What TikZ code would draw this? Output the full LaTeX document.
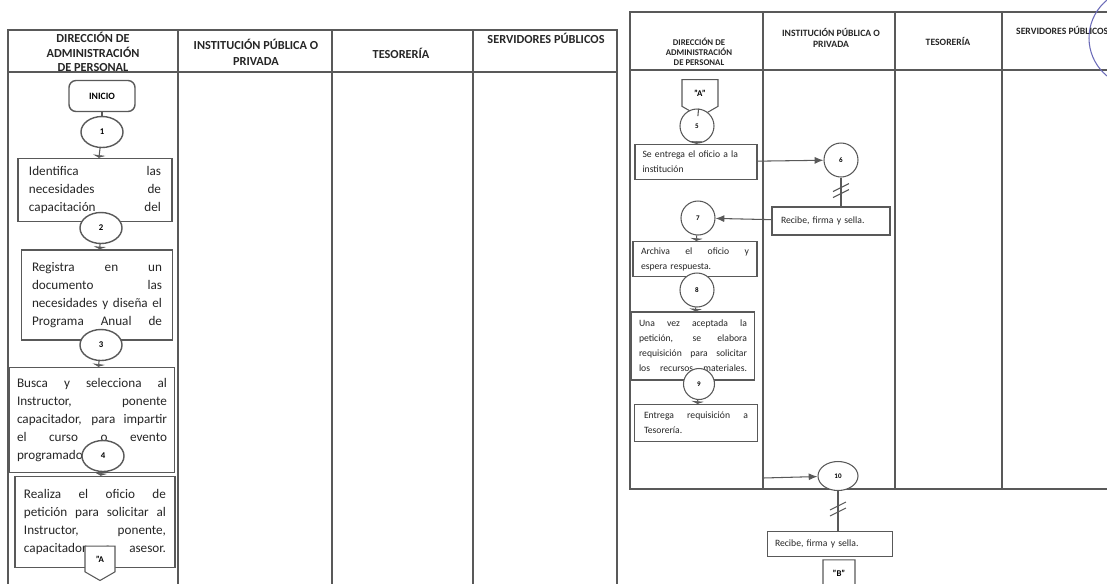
\documentclass[tikz,border=0pt]{standalone}
\usepackage{fontspec}
\setmainfont{Carlito}
\usepackage{tikz}
\usetikzlibrary{shapes.geometric,shapes.symbols,arrows.meta}
\definecolor{trazo}{gray}{0.35}
\definecolor{sello}{rgb}{0.42,0.42,0.72}
% renglon justificado a todo el ancho
\newlength{\anchotexto}
\newcommand{\renglon}[1]{\leavevmode\hbox to\anchotexto{\spaceskip=0.25em plus 1fil\relax #1}}

\begin{document}
\begin{tikzpicture}[x=0.02cm, y=-0.02cm,
  linea/.style={draw=trazo, line width=0.6pt},
  texto/.style={text width=#1*\pix, execute at begin node={\pgfmathsetlength{\anchotexto}{#1*\pix}}},
  cabeza/.style={font=\fontsize{7}{9}\selectfont\bfseries, align=center, text=black!85},
  cabezab/.style={font=\fontsize{5.5}{6}\selectfont\bfseries, align=center, text=black!85},
  caja/.style={linea, line width=0.8pt, fill=white, inner sep=0pt, align=left, font=\fontsize{7.5}{10.2}\selectfont, text=black!85},
  cajab/.style={linea, fill=white, inner sep=0pt, align=left, font=\fontsize{5.5}{8.5}\selectfont, text=black!85},
  conector/.style={ellipse, linea, line width=0.8pt, fill=white, inner sep=0pt, minimum width=42*\pix, minimum height=31*\pix, font=\fontsize{5}{6}\selectfont\bfseries},
  conectorb/.style={circle, linea, fill=white, inner sep=0pt, minimum size=34*\pix, font=\fontsize{4}{5}\selectfont\bfseries},
  pagina/.style={signal, signal to=south, signal pointer angle=120, linea, fill=white, inner sep=0pt, font=\fontsize{5}{6}\selectfont\bfseries},
  flecha/.style={linea, -{Latex[length=5pt,width=4pt]}},
  paso/.style={linea, -{Latex[length=1.5pt,width=8pt]}}
]
\def\pix{0.02cm}
% dos rayas inclinadas sobre una linea
\def\rayas#1{%
  \draw[linea] ([shift={(-8,1)}]#1) -- ([shift={(8,-7)}]#1);
  \draw[linea] ([shift={(-8,7)}]#1) -- ([shift={(8,-1)}]#1);}

\useasboundingbox (0,0) rectangle (1107,583);
\clip (0,0) rectangle (1107,583);

% Tabla izquierda
\draw[linea] (8,30) rectangle (617,600);
\draw[linea] (8,72) -- (617,72);
\foreach \x in {178,332,473}
  \draw[linea] (\x,30) -- (\x,600);

% Tabla derecha
\draw[linea] (1120,12) -- (630,12) -- (630,489) -- (1120,489);
\draw[linea] (630,70) -- (1120,70);
\foreach \x in {763,895,1002}
  \draw[linea] (\x,12) -- (\x,489);

% sello
\draw[sello, line width=0.6pt] (1138,38) circle[radius=0.98cm];

% Encabezados
\node[cabeza, font=\fontsize{7}{8.2}\selectfont\bfseries] (h1) at (93,52) {DIRECCIÓN DE\\ADMINISTRACIÓN\\DE PERSONAL};
\node[cabeza] (h2) at (256,52) {INSTITUCIÓN PÚBLICA O\\PRIVADA};
\node[cabeza] (h3) at (401,53) {TESORERÍA};
\node[cabeza] (h4) at (546,38) {SERVIDORES PÚBLICOS};
\node[cabezab, font=\fontsize{5}{5.7}\selectfont\bfseries] (k1) at (699,52) {DIRECCIÓN DE\\ADMINISTRACIÓN\\DE PERSONAL};
\node[cabezab] (k2) at (831,38) {INSTITUCIÓN PÚBLICA O\\PRIVADA};
\node[cabezab] (k3) at (948,41) {TESORERÍA};
\node[cabezab, anchor=west] (k4) at (1010,30) {SERVIDORES PÚBLICOS};

% Hoja 1
\node[linea, line width=0.8pt, rounded corners=4pt, minimum width=66*\pix, minimum height=31*\pix,
      font=\fontsize{5.5}{6}\selectfont\bfseries] (inicio) at (102,96) {INICIO};
\node[caja, minimum width=154*\pix, minimum height=63*\pix, texto=132] (b1) at (95,190)
  {\renglon{Identifica las}\\\renglon{necesidades de}\\\renglon{capacitación del}};
\node[caja, minimum width=151*\pix, minimum height=90*\pix, texto=130] (b2) at (97,295)
  {\renglon{Registra en un}\\\renglon{documento las}\\\renglon{necesidades y diseña el}\\\renglon{Programa Anual de}};
\node[caja, minimum width=165*\pix, minimum height=105*\pix, texto=150] (b3) at (92,420)
  {\renglon{Busca y selecciona al}\\\renglon{Instructor, ponente}\\\renglon{capacitador, para impartir}\\\renglon{el curso o evento}\\programado.};
\node[caja, minimum width=160*\pix, minimum height=91*\pix, texto=142] (b4) at (95,522)
  {\renglon{Realiza el oficio de}\\\renglon{petición para solicitar al}\\\renglon{Instructor, ponente,}\\\renglon{capacitador o asesor.}};

\node[conector] (c1) at (102,132) {1};
\node[conector] (c2) at (101,228) {2};
\node[conector] (c3) at (101,345) {3};
\node[conector] (c4) at (103,456) {4};
\node[pagina, minimum width=30*\pix, minimum height=28*\pix] (pa) at (100,559) {"A};

\draw[linea] (inicio) -- (c1);
\draw[paso] (c1) -- (b1);
\draw[paso] (c2) -- (b2);
\draw[paso] (c3) -- (b3);
\draw[paso] (c4) -- (b4);

% Hoja 2
\node[pagina, minimum width=36*\pix, minimum height=30*\pix] (pa2) at (700,93) {"A"};
\node[cajab, minimum width=122*\pix, minimum height=35*\pix, texto=107] (b5) at (696,162)
  {Se entrega el oficio a la\\institución};
\node[cajab, minimum width=118*\pix, minimum height=28*\pix, texto=100] (b6) at (831,221)
  {Recibe, firma y sella.};
\node[cajab, minimum width=124*\pix, minimum height=35*\pix, texto=108] (b7) at (695,259)
  {\renglon{Archiva el oficio y}\\espera respuesta.};
\node[cajab, minimum width=123*\pix, minimum height=68*\pix, texto=108] (b8) at (693,346)
  {\renglon{Una vez aceptada la}\\\renglon{petición, se elabora}\\\renglon{requisición para solicitar}\\\renglon{los recursos materiales.}};
\node[cajab, minimum width=123*\pix, minimum height=37*\pix, texto=104] (b9) at (696,423)
  {\renglon{Entrega requisición a}\\Tesorería.};
\node[cajab, minimum width=125*\pix, minimum height=25*\pix, texto=110] (b10) at (830,544)
  {Recibe, firma y sella.};

\node[conectorb] (c5) at (697,126) {5};
\node[conectorb] (c6) at (841,160) {6};
\node[conectorb] (c7) at (698,218) {7};
\node[conectorb] (c8) at (697,290) {8};
\node[conectorb, minimum size=31*\pix] (c9) at (699,384) {9};
\node[ellipse, linea, fill=white, inner sep=0pt, minimum width=40*\pix, minimum height=29*\pix,
      font=\fontsize{4}{5}\selectfont\bfseries] (c10) at (838,476) {10};
\node[pagina, minimum width=32*\pix, minimum height=30*\pix] (pb) at (839,573) {"B"};
\coordinate (s10) at (763,478);

\draw[linea] (pa2) -- (c5);
\draw[paso] (c5) -- (b5);
\draw[flecha] (b5) -- (c6);
\draw[linea] (c6.south) -- coordinate[pos=0.45] (r6) (c6.south |- b6.north);
\rayas{r6}
\draw[flecha] (b6) -- (c7);
\draw[paso] (c7) -- (b7);
\draw[paso] (c8) -- (b8);
\draw[paso] (c9) -- (b9);
\draw[flecha] (s10) -- (c10);
\draw[linea] (c10.south) -- coordinate[pos=0.45] (r10) (c10.south |- b10.north);
\rayas{r10}
\end{tikzpicture}
\end{document}
